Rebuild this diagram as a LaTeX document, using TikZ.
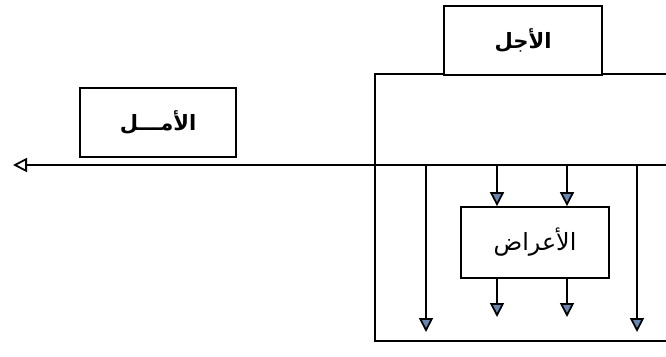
\documentclass[tikz,border=0pt]{standalone}
\usepackage{fontspec}
\usepackage{xcolor}
\usepackage{tikz}
\usetikzlibrary{arrows.meta, positioning}
\TeXXeTstate=1
\newfontfamily\arabicfont[Script=Arabic]{DejaVu Sans}
\definecolor{tipblue}{RGB}{105,135,175}

\begin{document}
\begin{tikzpicture}[
    box/.style={rectangle, draw=black, fill=white, line width=1pt, align=center, font=\arabicfont\bfseries\large},
    arrow/.style={-{Triangle[length=2.8mm, width=2.8mm, fill=tipblue]}, line width=1pt},
    openarrow/.style={-{Triangle[length=2.8mm, width=2.8mm, fill=white]}, line width=1pt}
]
\useasboundingbox (0,0) rectangle (13.32,7.12);
\draw [line width=1pt] (13.32,5.64) -- (7.5,5.64) -- (7.5,0.30) -- (13.32,0.30);
\node (ajal) [box, minimum width=3.16cm, minimum height=1.38cm] at (10.46,6.31) {\beginR الأجل\endR};
\node (amal) [box, minimum width=3.12cm, minimum height=1.38cm] at (3.16,4.67) {\beginR الأمـــل\endR};
\node (arad) [box, minimum width=2.96cm, minimum height=1.42cm, font=\arabicfont\fontsize{13.5}{16}\selectfont] at (10.70,2.27) {\beginR الأعراض\endR};
\coordinate (right) at (13.32,3.82);
\coordinate (left) at (0.26,3.82);
\coordinate (a1) at (8.52,3.82);
\coordinate (a2) at (9.94,3.82);
\coordinate (a3) at (11.34,3.82);
\coordinate (a4) at (12.74,3.82);
\coordinate (b1) at (8.52,0.48);
\coordinate (b2) at (9.94,0.78);
\coordinate (b3) at (11.34,0.78);
\coordinate (b4) at (12.74,0.48);
\draw [openarrow] (right) -- (left);
\draw [arrow] (a1) -- (b1);
\draw [arrow] (a4) -- (b4);
\draw [arrow] (a2) -- (a2 |- arad.north);
\draw [arrow] (a3) -- (a3 |- arad.north);
\draw [arrow] (a2 |- arad.south) -- (b2);
\draw [arrow] (a3 |- arad.south) -- (b3);
\end{tikzpicture}
\end{document}
